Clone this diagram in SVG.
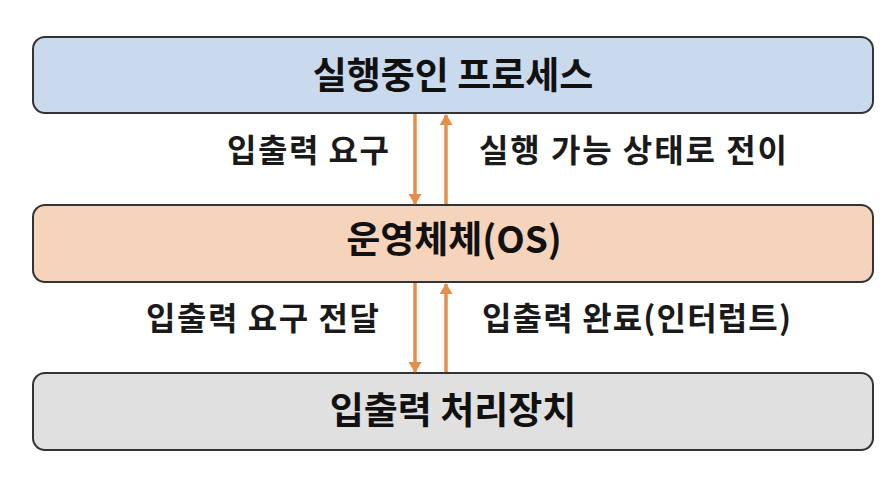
<svg xmlns="http://www.w3.org/2000/svg" width="892" height="484" viewBox="0 0 892 484">
  <style>
    .box { stroke: #333333; stroke-width: 2; }
    .title { font-family: "Noto Sans CJK KR", "Noto Sans", sans-serif; font-size: 37px; font-weight: bold; fill: #111111; text-anchor: middle; }
    .label { font-family: "Noto Sans CJK KR", "Noto Sans", sans-serif; font-size: 32px; font-weight: bold; fill: #1a1a1a; }
    .conn { stroke: #e4904c; stroke-width: 3.5; fill: none; }
  </style>
  <defs>
    <marker id="ah" viewBox="0 0 11 13" refX="10" refY="6.5" markerWidth="11" markerHeight="13" markerUnits="userSpaceOnUse" orient="auto">
      <path d="M0,0 L11,6.5 L0,13 Z" fill="#e4904c"/>
    </marker>
  </defs>
  <rect width="892" height="484" fill="#ffffff"/>

  <g id="node-process">
    <rect class="box" x="33" y="37" width="840" height="76" rx="12" fill="#c9daed"/>
    <text class="title" x="453" y="89">실행중인 프로세스</text>
  </g>

  <g id="node-os">
    <rect class="box" x="33" y="205" width="840" height="77" rx="12" fill="#f6d4bc"/>
    <text class="title" x="454" y="253">운영체체(OS)</text>
  </g>

  <g id="node-io">
    <rect class="box" x="33" y="373" width="840" height="77" rx="12" fill="#e0e0e0"/>
    <text class="title" x="453" y="424">입출력 처리장치</text>
  </g>

  <g id="connectors">
    <line class="conn" x1="415" y1="114" x2="415" y2="204" marker-end="url(#ah)"/>
    <line class="conn" x1="446" y1="204" x2="446" y2="115" marker-end="url(#ah)"/>
    <line class="conn" x1="415" y1="283" x2="415" y2="372" marker-end="url(#ah)"/>
    <line class="conn" x1="446" y1="372" x2="446" y2="284" marker-end="url(#ah)"/>
  </g>

  <g id="labels">
    <text class="label" x="227" y="162" textLength="162" lengthAdjust="spacing">입출력 요구</text>
    <text class="label" x="479" y="162" textLength="308" lengthAdjust="spacing">실행 가능 상태로 전이</text>
    <text class="label" x="146" y="330" textLength="233" lengthAdjust="spacing">입출력 요구 전달</text>
    <text class="label" x="482" y="330" textLength="309" lengthAdjust="spacing">입출력 완료(인터럽트)</text>
  </g>
</svg>
